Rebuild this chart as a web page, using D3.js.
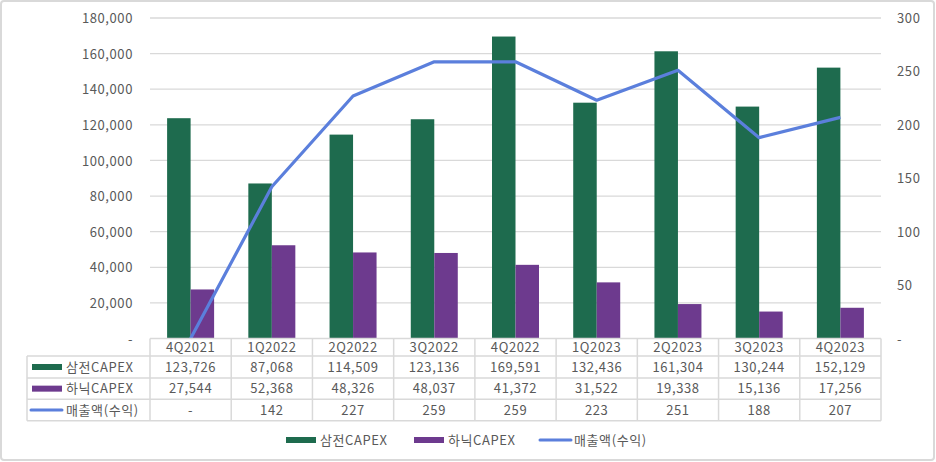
<!DOCTYPE html>
<html><head><meta charset="utf-8">
<script src="https://cdn.jsdelivr.net/npm/d3@7"></script>
<style>
html,body{margin:0;padding:0;background:#fff;}
text{font-family:"Noto Sans CJK KR","Noto Sans",sans-serif;fill:#595959;font-size:13px;letter-spacing:0.6px;}
</style></head><body>
<svg id="c" width="936" height="462"></svg>
<script>
const categories=["4Q2021","1Q2022","2Q2022","3Q2022","4Q2022","1Q2023","2Q2023","3Q2023","4Q2023"];
const samsung=[123726,87068,114509,123136,169591,132436,161304,130244,152129];
const hynix=[27544,52368,48326,48037,41372,31522,19338,15136,17256];
const revenue=[0,142,227,259,259,223,251,188,207];
const revenueLabels=["-","142","227","259","259","223","251","188","207"];
const leftTicks=[0,20000,40000,60000,80000,100000,120000,140000,160000,180000];
const rightTicks=[0,50,100,150,200,250,300];
const seriesNames=["삼전CAPEX","하닉CAPEX","매출액(수익)"];
const colors=["#1e6b4e","#6d3a8e","#5b7fdc"];

const svg=d3.select("#c");
const L=150,R=881,T=18,B=338.5;
svg.append("rect").attr("x",1).attr("y",1).attr("width",933).attr("height",459).attr("fill","#fff").attr("stroke","#d9d9d9").attr("stroke-width",2).attr("rx",3);

const x=d3.scaleBand().domain(categories).range([L,R]).paddingInner(0).paddingOuter(0);
const yL=d3.scaleLinear().domain([0,180000]).range([B,T]);
const yR=d3.scaleLinear().domain([0,300]).range([B,T]);
const fmt=d3.format(",");

// gridlines
svg.append("g").selectAll("line").data(leftTicks.slice(1)).join("line")
 .attr("x1",L).attr("x2",R).attr("y1",d=>yL(d)).attr("y2",d=>yL(d)).attr("stroke","#d9d9d9").attr("stroke-width",1.3);

// left axis
const ax=d3.axisLeft(yL).tickValues(leftTicks).tickSize(0).tickPadding(17).tickFormat(d=>d===0?"-":fmt(d));
const gL=svg.append("g").attr("transform",`translate(${L},0)`).call(ax);
gL.select(".domain").remove();
gL.selectAll("text").style("font-size","13px").attr("fill","#595959").attr("dy","0.35em");
const axR=d3.axisRight(yR).tickValues(rightTicks).tickSize(0).tickPadding(16).tickFormat(d=>d===0?"-":d);
const gR=svg.append("g").attr("transform",`translate(${R},0)`).call(axR);
gR.select(".domain").remove();
gR.selectAll("text").style("font-size","13px").attr("fill","#595959").attr("dy","0.35em");

// bars
const bw=23.5;
const bars=svg.append("g");
bars.selectAll(".s").data(categories).join("rect")
 .attr("x",d=>x(d)+x.bandwidth()/2-bw).attr("width",bw)
 .attr("y",(d,i)=>yL(samsung[i])).attr("height",(d,i)=>B-yL(samsung[i])).attr("fill",colors[0]);
bars.selectAll(".h").data(categories).join("rect")
 .attr("x",d=>x(d)+x.bandwidth()/2).attr("width",bw)
 .attr("y",(d,i)=>yL(hynix[i])).attr("height",(d,i)=>B-yL(hynix[i])).attr("fill",colors[1]);

// line
const line=d3.line().x((d,i)=>x(categories[i])+x.bandwidth()/2).y(d=>yR(d));
svg.append("path").datum(revenue).attr("d",line).attr("fill","none").attr("stroke",colors[2]).attr("stroke-width",3.2).attr("stroke-linejoin","round");

// data table
const rows=[B,356,378,399.3,420.7];
const tL=27;
const tg=svg.append("g");
const gc="#d9d9d9";
// horizontal lines
tg.append("line").attr("x1",L).attr("x2",R).attr("y1",rows[0]).attr("y2",rows[0]).attr("stroke",gc).attr("stroke-width",1.5);
for(let r=1;r<rows.length;r++){
 tg.append("line").attr("x1",tL).attr("x2",R).attr("y1",rows[r]).attr("y2",rows[r]).attr("stroke",gc).attr("stroke-width",1.5);
}
// vertical lines
tg.append("line").attr("x1",tL).attr("x2",tL).attr("y1",rows[1]).attr("y2",rows[4]).attr("stroke",gc).attr("stroke-width",1.5);
categories.forEach(c=>{
 tg.append("line").attr("x1",x(c)).attr("x2",x(c)).attr("y1",rows[0]).attr("y2",rows[4]).attr("stroke",gc).attr("stroke-width",1.5);
});
tg.append("line").attr("x1",R).attr("x2",R).attr("y1",rows[0]).attr("y2",rows[4]).attr("stroke",gc).attr("stroke-width",1.5);

const rowData=[categories,samsung.map(fmt),hynix.map(fmt),revenueLabels];
rowData.forEach((arr,r)=>{
 const yc=(rows[r]+rows[r+1])/2;
 tg.selectAll(null).data(arr).join("text")
  .attr("x",(d,i)=>x(categories[i])+x.bandwidth()/2).attr("y",yc).attr("dy","0.36em")
  .attr("text-anchor","middle").text(d=>d);
});
// row keys
seriesNames.forEach((n,i)=>{
 const yc=(rows[i+1]+rows[i+2])/2;
 if(i<2) tg.append("rect").attr("x",32).attr("y",yc-3).attr("width",30).attr("height",6).attr("fill",colors[i]);
 else tg.append("line").attr("x1",31).attr("x2",62).attr("y1",yc).attr("y2",yc).attr("stroke",colors[i]).attr("stroke-width",3).attr("stroke-linecap","round");
 tg.append("text").attr("x",66).attr("y",yc).attr("dy","0.36em").text(n);
});

// legend
const lg=svg.append("g");
const lx=[286,414,540];
const ly=440;
seriesNames.forEach((n,i)=>{
 if(i<2) lg.append("rect").attr("x",lx[i]).attr("y",ly-3).attr("width",30).attr("height",6).attr("fill",colors[i]);
 else lg.append("line").attr("x1",lx[i]).attr("x2",lx[i]+31).attr("y1",ly).attr("y2",ly).attr("stroke",colors[i]).attr("stroke-width",3).attr("stroke-linecap","round");
 lg.append("text").attr("x",lx[i]+34).attr("y",ly).attr("dy","0.36em").text(n);
});
</script></body></html>
